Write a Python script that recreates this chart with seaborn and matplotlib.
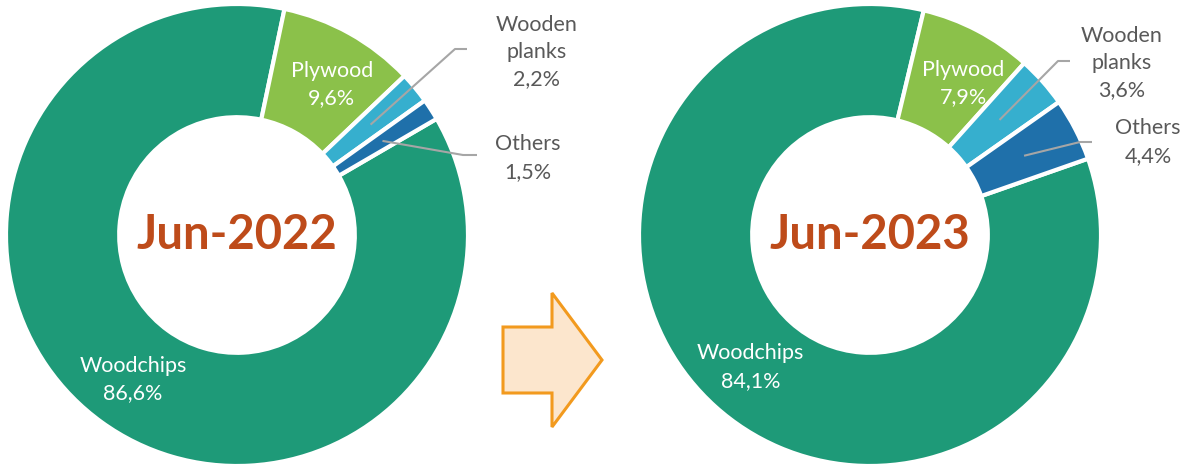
import numpy as np
import matplotlib
matplotlib.use("Agg")
import matplotlib.pyplot as plt
from matplotlib.patches import Polygon
import seaborn as sns

# ---- data -------------------------------------------------------------
categories = ["Woodchips", "Plywood", "Wooden planks", "Others"]
share_2022 = [86.6, 9.6, 2.2, 1.5]
share_2023 = [84.1, 7.9, 3.6, 4.4]
period_labels = ["Jun-2022", "Jun-2023"]

# ---- style ------------------------------------------------------------
sns.set_theme(style="white")
plt.rcParams["font.family"] = ["Lato", "DejaVu Sans"]

palette = ["#1E9A78", "#8BC14A", "#36AFCE", "#1F70AA"]
label_grey = "#595959"
title_color = "#BE4B1A"
label_size = 15.5
label_spacing = 1.45

W, H = 1186, 469
fig = plt.figure(figsize=(W / 100, H / 100), dpi=100)
ax = fig.add_axes([0, 0, 1, 1])


def fmt(v):
    return f"{v:.1f}".replace(".", ",") + "%"


def polar(cx, cy, r, ang):
    a = np.deg2rad(ang)
    return cx + r * np.cos(a), cy + r * np.sin(a)


# donut geometry in pixel units (y measured upward)
donuts = [
    dict(values=share_2022, center=(237, 234), radius=231, start=30.2,
         inner_shift={1: -3},
         callouts={2: dict(elbow=(455, 420), end=(467, 420), text=(537, 417)),
                   3: dict(elbow=(463, 314), end=(477, 314), text=(528, 311))}),
    dict(values=share_2023, center=(870, 234), radius=231, start=19.3,
         inner_shift={1: -4},
         callouts={2: dict(elbow=(1058, 408), end=(1070, 408), text=(1122, 406)),
                   3: dict(elbow=(1080, 327), end=(1092, 327), text=(1148, 327))}),
]

for d, period in zip(donuts, period_labels):
    cx, cy = d["center"]
    R = d["radius"]
    wedges, _ = ax.pie(
        d["values"], colors=palette, startangle=d["start"], counterclock=False,
        center=(cx, cy), radius=R,
        wedgeprops=dict(width=R * 0.49, edgecolor="white", linewidth=3),
    )
    for i, w in enumerate(wedges):
        mid = 0.5 * (w.theta1 + w.theta2)
        text = f"{categories[i]}\n{fmt(d['values'][i])}"
        if i in d["callouts"]:
            c = d["callouts"][i]
            sx, sy = polar(cx, cy, R * 0.75, mid)
            ax.plot([sx, c["elbow"][0], c["end"][0]],
                    [sy, c["elbow"][1], c["end"][1]],
                    color="#A6A6A6", lw=1.5, solid_capstyle="butt")
            ax.text(*c["text"], text.replace("Wooden planks", "Wooden\nplanks"),
                    ha="center", va="center", color=label_grey,
                    fontsize=label_size, linespacing=label_spacing)
        else:
            ang = mid + d["inner_shift"].get(i, 0)
            tx, ty = polar(cx, cy, R * 0.77, ang)
            ax.text(tx, ty, text, ha="center", va="center", color="white",
                    fontsize=label_size, linespacing=label_spacing)
    ax.text(cx, cy, period, ha="center", va="center", color=title_color,
            fontsize=34, fontweight="bold")

# transition arrow between the two periods
arrow_pts = [(503, 327), (552, 327), (552, 293), (602, 360),
             (552, 427), (552, 393), (503, 393)]
ax.add_patch(Polygon([(x, H - y) for x, y in arrow_pts], closed=True,
                     facecolor="#FCE6CD", edgecolor="#F29A1E", lw=2.2,
                     joinstyle="miter"))

ax.set_xlim(0, W)
ax.set_ylim(0, H)
ax.set_aspect("equal")
ax.axis("off")
fig.savefig("out.png", dpi=100, facecolor="white")
